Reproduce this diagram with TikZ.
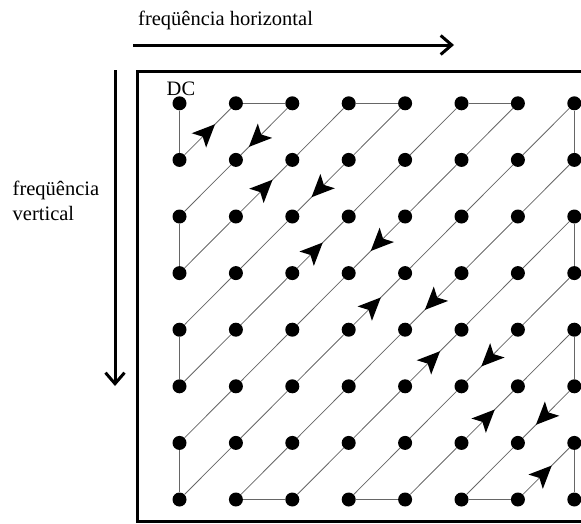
\documentclass[tikz,border=0pt]{standalone}
\usepackage{fontspec}
\setmainfont{Liberation Serif}
\usetikzlibrary{arrows.meta,calc}
\begin{document}
\begin{tikzpicture}[x=1pt,y=-1pt,
  dot/.style={circle,fill=black,inner sep=0pt,minimum size=14pt},
  scan/.style={draw=black!60,line width=0.8pt},
  axis/.style={line width=3pt,-{Straight Barb[length=11pt,width=19pt]}},
  frame/.style={line width=3pt},
  lbl/.style={font=\fontsize{20.5}{25}\selectfont,inner sep=0pt},
  head/.style={fill=black}
]
\useasboundingbox (0,0) rectangle (581,523);
\clip (0,0) rectangle (581,523);

% 8x8 grid of coefficients
\foreach \r in {0,...,7}
  \foreach \c in {0,...,7}
    \node[dot] (n\r\c) at ({179.5+56.4*\c},{103.3+56.6*\r}) {};

% zig-zag scan order
\foreach \a [remember=\a as \b (initially 00)] in
  {10,01,02,11,20,30,21,12,03,04,13,22,31,40,50,41,32,23,14,05,06,15,24,33,42,51,60,70,61,52,43,34,25,16,07,17,26,35,44,53,62,71,72,63,54,45,36,27,37,46,55,64,73,74,65,56,47,57,66,75,76,67,77}
  \draw[scan] (n\b) -- (n\a);

% direction marks on the diagonals (tip at fraction \p from \s towards \t)
\foreach \s/\t/\p in {10/01/0.63, 02/11/0.77, 21/12/0.65, 13/22/0.66,
    32/23/0.54, 24/33/0.61, 43/34/0.57, 35/44/0.65, 54/45/0.62,
    46/55/0.65, 65/56/0.59, 57/66/0.68, 76/67/0.60}
{
  \coordinate (tip) at ($(n\s.center)!\p!(n\t.center)$);
  \fill[head] (tip) -- ($(tip)!25pt!24:(n\s.center)$)
    -- ($(tip)!17.5pt!(n\s.center)$)
    -- ($(tip)!25pt!-24:(n\s.center)$) -- cycle;
}

% block outline
\draw[frame] (137,71) rectangle (640,521);

% frequency axes
\coordinate (h0) at (133,45);
\coordinate (h1) at (454,45);
\draw[axis] (h0) -- (h1);
\coordinate (v0) at (115,70);
\coordinate (v1) at (115,386);
\draw[axis] (v0) -- (v1);

% labels
\node[lbl,anchor=base west] (hlabel) at (138,25) {freqüência horizontal};
\node[lbl,anchor=base west] (vlabel1) at (12.5,195) {freqüência};
\node[lbl,anchor=base west] (vlabel2) at (12.5,220) {vertical};
\node[lbl,anchor=base west] (dc) at (166.5,95) {DC};
\end{tikzpicture}
\end{document}
